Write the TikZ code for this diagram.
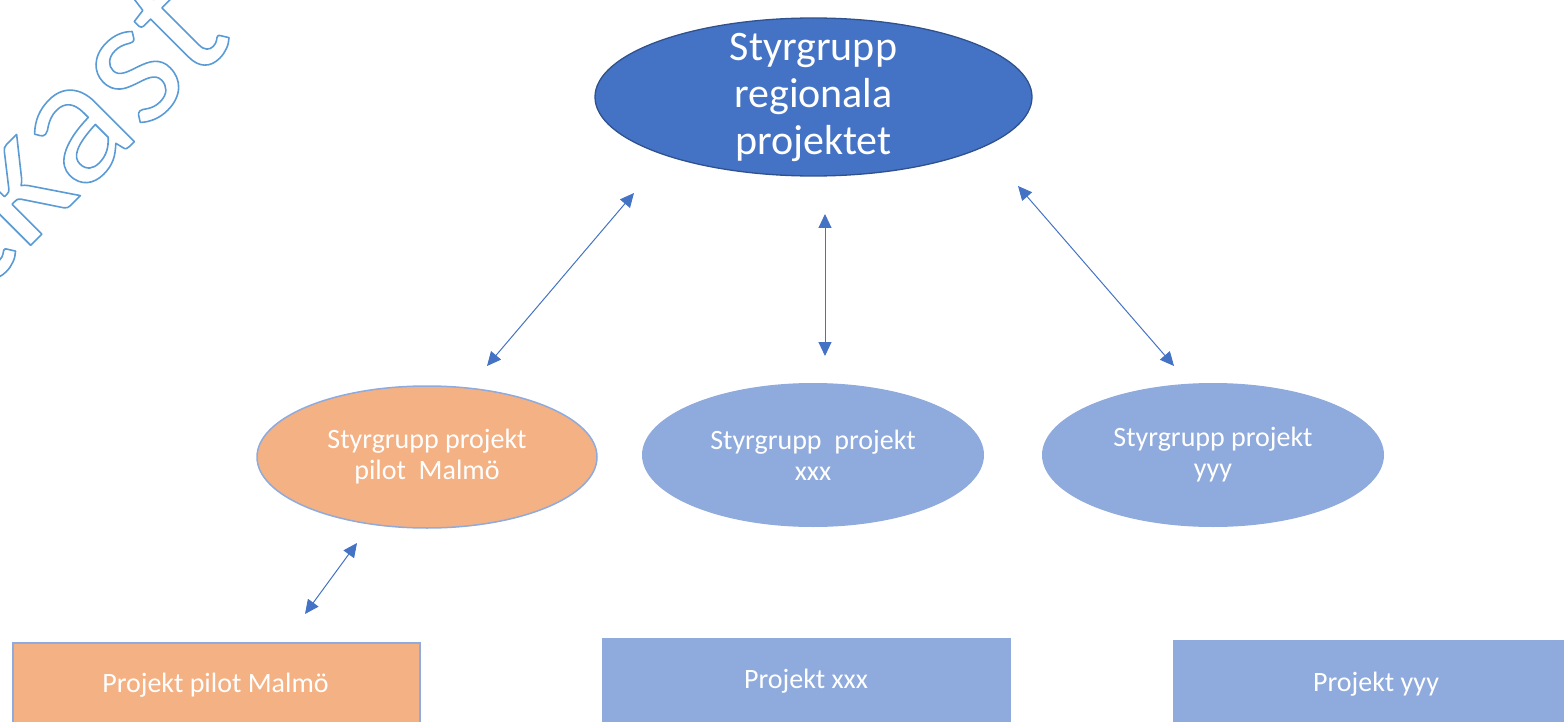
\documentclass[tikz,border=0pt]{standalone}
\usepackage{fontspec}
\setmainfont{Carlito}
\usetikzlibrary{shapes.geometric,arrows.meta}
\definecolor{darkblue}{HTML}{4472C4}
\definecolor{darkborder}{HTML}{2F528F}
\definecolor{lightblue}{HTML}{8FAADC}
\definecolor{peach}{HTML}{F4B183}
\definecolor{wmblue}{HTML}{5B9BD5}
\newcommand{\outlinetext}[1]{\special{pdf:literal direct q 0.357 0.608 0.835 RG 1.6 w 1 J 1 j 1 Tr}#1\special{pdf:literal direct 0 Tr Q}}
\tikzset{
  topell/.style={ellipse, fill=darkblue, draw=darkborder, line width=1.3pt, minimum width=437pt, minimum height=158pt, inner xsep=0pt, inner ysep=-25pt, text=white, align=center, font=\fontsize{42}{47}\selectfont},
  subell/.style={ellipse, fill=lightblue, minimum width=342pt, minimum height=144pt, inner sep=0pt, text=white, align=center, font=\fontsize{28}{31}\selectfont},
  pilotell/.style={subell, fill=peach, draw=lightblue, line width=1.5pt, minimum width=340pt, minimum height=142pt},
  projbox/.style={rectangle, fill=lightblue, inner sep=0pt},
  pilotbox/.style={projbox, fill=peach, draw=lightblue, line width=1.5pt},
  boxtext/.style={text=white, inner sep=0pt, font=\fontsize{28}{30}\selectfont},
  link/.style={draw=darkblue, line width=1pt, {Triangle[length=14pt,width=13pt]}-{Triangle[length=14pt,width=13pt]}, color=darkblue},
}
\begin{document}
\begin{tikzpicture}[x=1pt,y=1pt]
\useasboundingbox (0,0) rectangle (1564,-722);
\begin{scope}
\clip (0,0) rectangle (1564,-722);
% watermark
\node[anchor=base east, rotate=45, inner sep=0pt, font=\fontsize{185}{185}\selectfont] (wm) at (236,-40) {\outlinetext{Utkast}};
% nodes
\node[topell] (top) at (813.5,-97) {Styrgrupp\\regionala\\projektet};
\node[pilotell] (sm) at (427,-457) {Styrgrupp projekt\\pilot\ \ Malmö};
\node[subell] (sx) at (813,-455) {Styrgrupp\ \ projekt\\xxx};
\node[subell] (sy) at (1213,-455) {Styrgrupp projekt\\yyy};
\node[pilotbox, minimum width=407pt, minimum height=100pt, anchor=north west] (pm) at (12,-642) {};
\node[projbox, minimum width=409pt, minimum height=100pt, anchor=north west] (px) at (602,-638) {};
\node[projbox, minimum width=400pt, minimum height=100pt, anchor=north west] (py) at (1173,-640) {};
\node[boxtext] (pmt) at (215.5,-685) {Projekt pilot Malmö};
\node[boxtext] (pxt) at (806,-681) {Projekt xxx};
\node[boxtext] (pyt) at (1376,-684) {Projekt yyy};
% arrow end coordinates
\coordinate (a1s) at (634,-193);
\coordinate (a1e) at (487,-366);
\coordinate (a2s) at (825,-214);
\coordinate (a2e) at (825,-356);
\coordinate (a3s) at (1018,-186);
\coordinate (a3e) at (1174,-366);
\coordinate (a4s) at (357,-543);
\coordinate (a4e) at (305,-614);
\draw[link] (a1s) -- (a1e);
\draw[link] (a2s) -- (a2e);
\draw[link] (a3s) -- (a3e);
\draw[link] (a4s) -- (a4e);
\end{scope}
\end{tikzpicture}
\end{document}
